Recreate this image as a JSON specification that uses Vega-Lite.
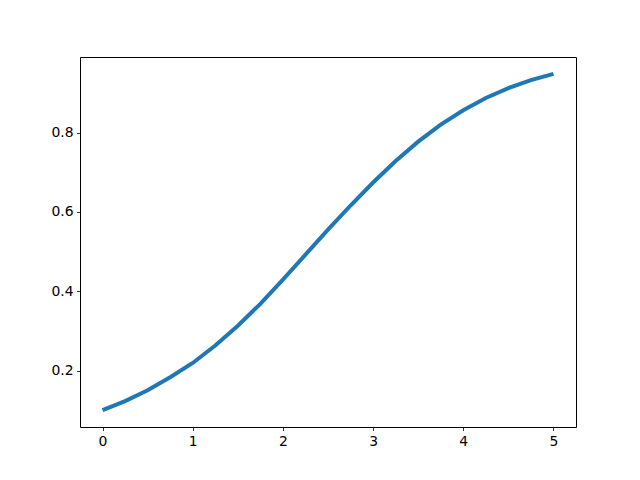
{
  "$schema": "https://vega.github.io/schema/vega-lite/v6.json",
  "autosize": "none",
  "width": 496,
  "height": 370,
  "padding": {"left": 80, "top": 57, "right": 64, "bottom": 53},
  "background": "white",
  "config": {
    "view": {"stroke": "black", "strokeWidth": 1},
    "axis": {
      "grid": false,
      "domain": false,
      "tickColor": "black",
      "tickWidth": 0.8,
      "tickSize": 3.5,
      "labelPadding": 3.5,
      "labelFont": "DejaVu Sans",
      "labelFontSize": 13.9,
      "labelColor": "black",
      "title": null
    }
  },
  "data": {
    "values": [
      {"x": 0.0, "y": 0.100},
      {"x": 0.25, "y": 0.123},
      {"x": 0.5, "y": 0.150},
      {"x": 0.75, "y": 0.183},
      {"x": 1.0, "y": 0.219},
      {"x": 1.25, "y": 0.263},
      {"x": 1.5, "y": 0.313},
      {"x": 1.75, "y": 0.368},
      {"x": 2.0, "y": 0.429},
      {"x": 2.25, "y": 0.492},
      {"x": 2.5, "y": 0.555},
      {"x": 2.75, "y": 0.616},
      {"x": 3.0, "y": 0.674},
      {"x": 3.25, "y": 0.728},
      {"x": 3.5, "y": 0.777},
      {"x": 3.75, "y": 0.820},
      {"x": 4.0, "y": 0.856},
      {"x": 4.25, "y": 0.887},
      {"x": 4.5, "y": 0.912},
      {"x": 4.75, "y": 0.932},
      {"x": 5.0, "y": 0.948}
    ]
  },
  "mark": {"type": "line", "color": "#1f77b4", "strokeWidth": 4},
  "encoding": {
    "x": {
      "field": "x",
      "type": "quantitative",
      "scale": {"domain": [-0.25, 5.25], "nice": false, "zero": false},
      "axis": {"values": [0, 1, 2, 3, 4, 5], "format": "d"}
    },
    "y": {
      "field": "y",
      "type": "quantitative",
      "scale": {"domain": [0.0576, 0.9904], "nice": false, "zero": false},
      "axis": {"values": [0.2, 0.4, 0.6, 0.8], "format": ".1f"}
    }
  }
}
